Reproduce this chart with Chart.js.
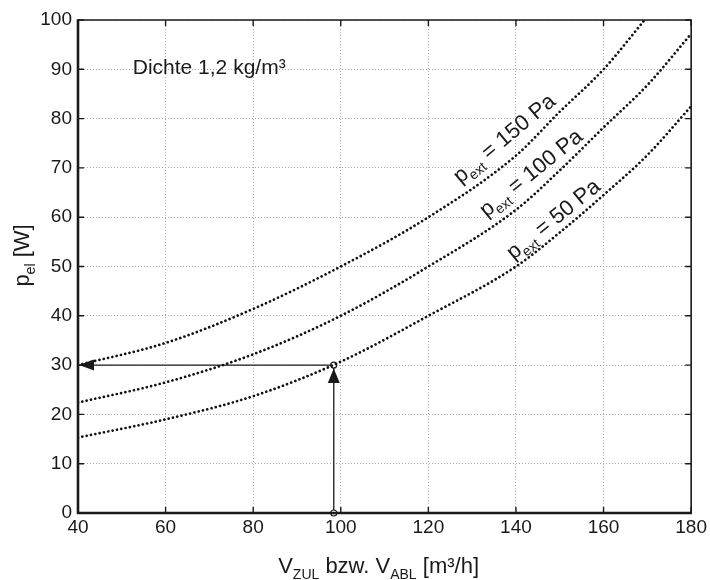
<!DOCTYPE html>
<html>
<head>
<meta charset="utf-8">
<script src="https://cdn.jsdelivr.net/npm/chart.js@4.4.1/dist/chart.umd.min.js"></script>
<style>
    html, body { margin: 0; padding: 0; background: #fff; }
    #wrap { width: 710px; height: 580px; position: relative; }
</style>
</head>
<body>
<div id="wrap"><canvas id="chart"></canvas></div>
<script>
"use strict";

// Values
var volume = [40, 60, 80, 100, 120, 140, 150, 160, 170, 180];      // m³/h
var power150 = [30, 34.5, 41.4, 50, 60, 72.5, 81.4, 90, 100.7, null]; // W
var power100 = [22.4, 26.5, 32.2, 40, 50, 61.5, 69.5, 78.2, 86.8, 97.2];
var power50 = [15.3, 19, 23.7, 30.7, 40, 50, 56.9, 64.5, 72.6, 82.5];
var curveNames = ["150 Pa", "100 Pa", "50 Pa"];

// Example readout (arrow)
var readoutVolume = 98.4;
var readoutPower = 30;

var FONT = "'Liberation Sans', Arial, Helvetica, sans-serif";
var INK = "#1a1a1a";

function toPoints(xs, ys) {
    return xs.map(function (x, i) { return { x: x, y: ys[i] }; });
}

function curve(values) {
    return {
        data: toPoints(volume, values),
        borderColor: "#111",
        borderWidth: 2.7,
        borderDash: [0.01, 4.4],
        borderCapStyle: "round",
        pointRadius: 0,
        fill: false,
        cubicInterpolationMode: "monotone"
    };
}

// text with subscripts: parts = [[text, isSub], ...]
function drawRich(ctx, parts, x, y, size, align) {
    var subSize = Math.round(size * 0.62);
    var w = 0;
    parts.forEach(function (p) {
        ctx.font = (p[1] ? subSize : size) + "px " + FONT;
        w += ctx.measureText(p[0]).width;
    });
    var cx = align === "center" ? x - w / 2 : x;
    ctx.textAlign = "left";
    ctx.textBaseline = "alphabetic";
    parts.forEach(function (p) {
        ctx.font = (p[1] ? subSize : size) + "px " + FONT;
        ctx.fillText(p[0], cx, y + (p[1] ? size * 0.26 : 0));
        cx += ctx.measureText(p[0]).width;
    });
}

var annotations = {
    id: "annotations",
    afterDatasetsDraw: function (chart) {
        var ctx = chart.ctx;
        var xs = chart.scales.x, ys = chart.scales.y;
        var a = chart.chartArea;
        ctx.save();
        ctx.fillStyle = INK;
        ctx.strokeStyle = INK;

        // arrowheads
        var ax = xs.getPixelForValue(readoutVolume);
        var ay = ys.getPixelForValue(readoutPower);
        var tipX = xs.getPixelForValue(xs.min) + 1;
        ctx.beginPath();
        ctx.moveTo(tipX, ay);
        ctx.lineTo(tipX + 15, ay - 5.5);
        ctx.lineTo(tipX + 15, ay + 5.5);
        ctx.closePath();
        ctx.fill();
        ctx.beginPath();
        ctx.moveTo(ax, ay + 3.5);
        ctx.lineTo(ax - 6, ay + 18);
        ctx.lineTo(ax + 6, ay + 18);
        ctx.closePath();
        ctx.fill();

        // curve labels
        var labelAt = [[137.3, 76.0, -40], [143.4, 69.0, -39], [148.5, 59.6, -39]];
        curveNames.forEach(function (name, i) {
            var p = labelAt[i];
            ctx.save();
            ctx.translate(xs.getPixelForValue(p[0]), ys.getPixelForValue(p[1]));
            ctx.rotate(p[2] * Math.PI / 180);
            drawRich(ctx, [["p", false], ["ext", true], [" = " + name, false]], 0, 7, 22, "center");
            ctx.restore();
        });

        // density note
        ctx.font = "21px " + FONT;
        ctx.textAlign = "left";
        ctx.textBaseline = "middle";
        ctx.fillText("Dichte 1,2 kg/m³", xs.getPixelForValue(52.5), ys.getPixelForValue(90.3));

        // inward tick marks
        ctx.lineWidth = 1.4;
        ctx.beginPath();
        xs.ticks.forEach(function (t) {
            var px = xs.getPixelForValue(t.value);
            ctx.moveTo(px, a.bottom); ctx.lineTo(px, a.bottom - 6);
            ctx.moveTo(px, a.top); ctx.lineTo(px, a.top + 6);
        });
        ys.ticks.forEach(function (t) {
            var py = ys.getPixelForValue(t.value);
            ctx.moveTo(a.left, py); ctx.lineTo(a.left + 6, py);
            ctx.moveTo(a.right, py); ctx.lineTo(a.right - 6, py);
        });
        ctx.stroke();

        // frame: thin top/right, heavy left/bottom
        ctx.lineWidth = 1.6;
        ctx.beginPath();
        ctx.moveTo(a.left, a.top); ctx.lineTo(a.right, a.top); ctx.lineTo(a.right, a.bottom);
        ctx.stroke();
        ctx.lineWidth = 2.6;
        ctx.beginPath();
        ctx.moveTo(a.left, a.top - 0.8); ctx.lineTo(a.left, a.bottom); ctx.lineTo(a.right + 0.8, a.bottom);
        ctx.stroke();

        // axis titles
        ctx.fillStyle = INK;
        drawRich(ctx, [["V", false], ["ZUL", true], [" bzw. V", false], ["ABL", true], [" [m³/h]", false]],
            (a.left + a.right) / 2 - 6, 573, 22, "center");
        ctx.save();
        ctx.translate(29, (a.top + a.bottom) / 2 - 11);
        ctx.rotate(-Math.PI / 2);
        drawRich(ctx, [["p", false], ["el", true], [" [W]", false]], 0, 0, 22, "center");
        ctx.restore();

        ctx.restore();
    }
};

var chart = new Chart(document.getElementById("chart"), {
    type: "line",
    data: {
        datasets: [
            curve(power150),
            curve(power100),
            curve(power50),
            {
                // readout path: axis <- point <- volume
                data: [
                    { x: 40, y: readoutPower },
                    { x: readoutVolume, y: readoutPower },
                    { x: readoutVolume, y: 0 }
                ],
                borderColor: INK,
                borderWidth: 1.3,
                tension: 0,
                pointRadius: [0, 3, 3],
                pointBackgroundColor: "#fff",
                pointBorderColor: INK,
                pointBorderWidth: 1.2,
                clip: 6
            }
        ]
    },
    options: {
        responsive: true,
        maintainAspectRatio: false,
        animation: false,
        events: [],
        layout: { padding: { left: 0, right: 17, top: 20, bottom: 0 } },
        plugins: {
            legend: { display: false },
            tooltip: { enabled: false },
            title: { display: false }
        },
        scales: {
            x: {
                type: "linear",
                min: 40,
                max: 180,
                afterFit: function (s) { s.height = 67; },
                ticks: { stepSize: 20, padding: 3, color: INK, font: { family: FONT, size: 19 } },
                grid: { color: "#a8a8a8", lineWidth: 1, drawTicks: false },
                border: { display: false, dash: [1, 2] }
            },
            y: {
                min: 0,
                max: 100,
                afterFit: function (s) { s.width = 78; },
                ticks: { stepSize: 10, padding: 6, color: INK, font: { family: FONT, size: 19 } },
                grid: { color: "#a8a8a8", lineWidth: 1, drawTicks: false },
                border: { display: false, dash: [1, 2] }
            }
        }
    },
    plugins: [annotations]
});
</script>
</body>
</html>
